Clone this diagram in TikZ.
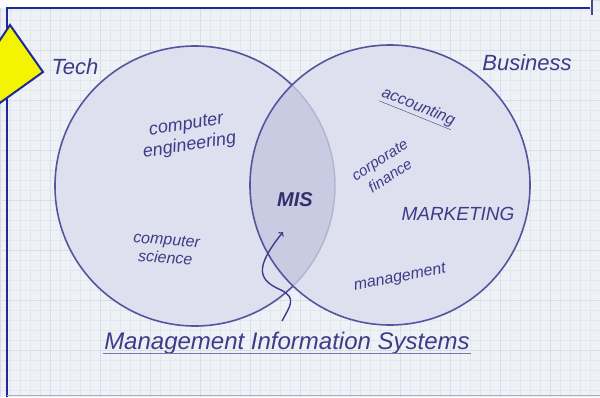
\documentclass[tikz,border=0pt]{standalone}
\usepackage{fontspec}
\setmainfont{Liberation Sans}
\usetikzlibrary{positioning}
\definecolor{paper}{HTML}{EEF1F5}
\definecolor{gridcol}{HTML}{E2E7EE}
\definecolor{gridmajor}{HTML}{D8DEE6}
\definecolor{ink}{HTML}{3C3C88}
\definecolor{rim}{HTML}{55559E}
\definecolor{setfill}{HTML}{DFE0EF}
\definecolor{lensfill}{HTML}{C9CBE3}
\definecolor{framecol}{HTML}{1C2A9C}
\definecolor{pointer}{HTML}{F4F400}

\begin{document}
\begin{tikzpicture}[x=1pt,y=-1pt,
		hand/.style={text=ink,font=\itshape,inner sep=1pt},
		setrim/.style={draw=rim,line width=1.6pt},
		]
	\clip (0,0) rectangle (600,397);
	\fill[paper] (0,0) rectangle (600,397);
	\draw[gridcol,line width=0.5pt,step=10pt] (0,0) grid (600,397);
	\draw[gridmajor,line width=0.9pt,step=50pt] (0,0) grid (600,397);
	\fill[white] (0,0) rectangle (592,8);

	\coordinate (tc) at (195,186);
	\coordinate (bc) at (390,185);

	% the two sets
	\fill[setfill] (tc) circle (140);
	\draw[setrim] (tc) circle (140);
	\fill[setfill] (bc) circle (140);
	\begin{scope}
		\clip (bc) circle (140);
		\fill[lensfill] (tc) circle (140);
		\draw[rim!45,line width=1.4pt] (tc) circle (140);
	\end{scope}
	\draw[setrim] (bc) circle (140);

	\node[hand,font=\itshape\fontsize{22}{24}\selectfont](tech) at (75,67){Tech};
	\node[hand,font=\itshape\fontsize{22}{24}\selectfont](biz) at (527,63){Business};

	\node[hand,align=center,rotate=9,font=\itshape\fontsize{18}{21}\selectfont](compeng) at (188,136){computer\\engineering};
	\node[hand,align=center,rotate=-4,font=\itshape\fontsize{16}{18}\selectfont](compsci) at (166,249){computer\\science};

	\node[hand,rotate=-22,font=\itshape\fontsize{16}{18}\selectfont](acct) at (418,108){\underline{accounting}};
	\node[hand,align=center,rotate=33,font=\itshape\fontsize{15}{19}\selectfont](corpfin) at (385,168){corporate\\finance};
	\node[hand,font=\itshape\fontsize{19}{20}\selectfont](mkt) at (458,214){MARKETING};
	\node[hand,rotate=11,font=\itshape\fontsize{16}{18}\selectfont](mgmt) at (400,278){management};

	\node[hand,text=ink!80!black,font=\bfseries\itshape\fontsize{20}{22}\selectfont](mis) at (295,200){MIS};
	\node[hand,font=\itshape\fontsize{24}{26}\selectfont](mislabel) at (287,343){Management Information Systems};
	\draw[ink!70,line width=1.5pt] (mislabel.south west) ++(0,-2) coordinate (ul) -- (ul -| mislabel.south east);

	\coordinate (tail) at (282,321);
	\coordinate (tip) at (283,232);
	\draw[->,ink,line width=1.4pt] (tail) .. controls (290,306) and (297,298) .. (281,290)
		.. controls (258,280) and (254,268) .. (tip);

	% frame
	\draw[framecol,line width=2.5pt] (7,397) -- (7,8) -- (590,8);
	\draw[framecol!60!gray,line width=2pt] (592,0) -- (592,15);
	\draw[framecol!35!paper,line width=1.5pt] (7,395.5) -- (600,395.5);

	% yellow pointer
	\filldraw[fill=pointer,draw=framecol,line width=2pt,line join=miter]
		(-10,55) -- (10,25) -- (43,72) -- (-10,110) -- cycle;
\end{tikzpicture}
\end{document}
